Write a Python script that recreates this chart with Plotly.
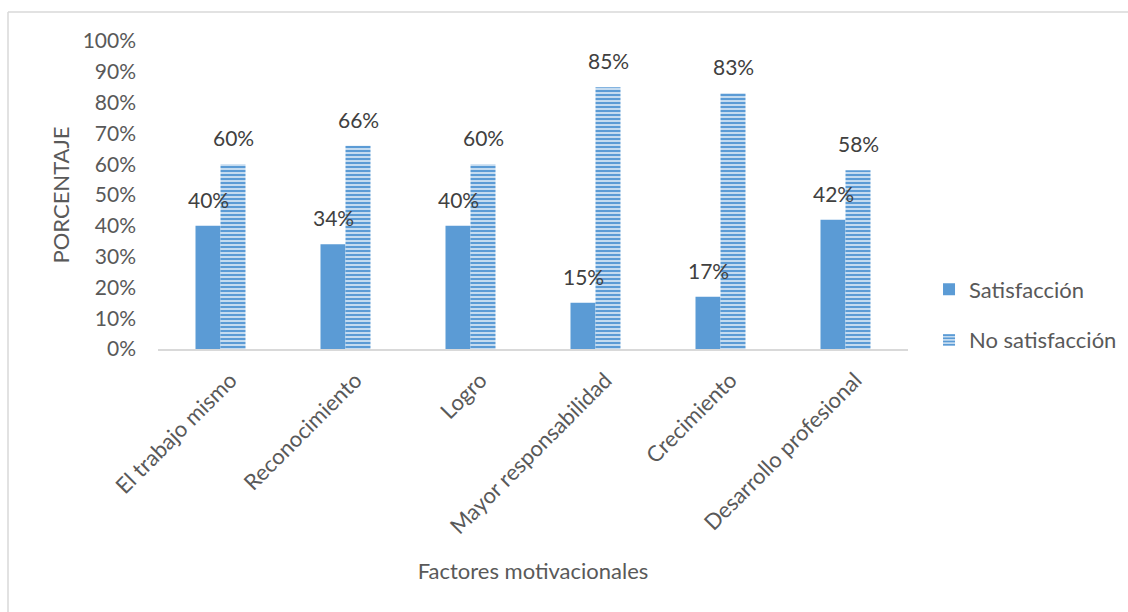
import plotly.graph_objects as go

categorias = ["El trabajo mismo", "Reconocimiento", "Logro",
              "Mayor responsabilidad", "Crecimiento", "Desarrollo profesional"]
satisfaccion = [40, 34, 40, 15, 17, 42]
no_satisfaccion = [60, 66, 60, 85, 83, 58]
y_ticks = [0, 10, 20, 30, 40, 50, 60, 70, 80, 90, 100]

AZUL = "#5b9bd5"
TEXTO = "#595959"
ETIQUETA = "#404040"
FUENTE = "Lato"

fig = go.Figure()
fig.add_trace(go.Bar(
    name="Satisfacción", x=categorias, y=satisfaccion,
    marker=dict(color=AZUL, line=dict(width=0)),
    legendgroup="a",
))
fig.add_trace(go.Bar(
    name="No satisfacción", x=categorias, y=no_satisfaccion,
    marker=dict(color=AZUL, line=dict(width=0),
                pattern=dict(shape="-", fgcolor=AZUL, bgcolor="white",
                             fgopacity=1, size=4, solidity=0.68)),
    legendgroup="b",
))

# value labels above each bar, offset to the bar's slot in the group
for serie, dx in ((satisfaccion, -12.5), (no_satisfaccion, 12.5)):
    for cat, v in zip(categorias, serie):
        fig.add_annotation(x=cat, y=v, text=f"{v}%", showarrow=False,
                           xanchor="center", yanchor="bottom",
                           xshift=dx, yshift=12,
                           font=dict(size=21, color=ETIQUETA, family=FUENTE))

# outer chart border: only the top and left edges fall inside the page
fig.add_shape(type="line", xref="paper", yref="paper",
              x0=-0.2, x1=1.6, y0=1.094, y1=1.094,
              line=dict(color="#d9d9d9", width=1.5))
fig.add_shape(type="line", xref="paper", yref="paper",
              x0=-0.2, x1=-0.2, y0=-1.2, y1=1.094,
              line=dict(color="#d9d9d9", width=1.5))

fig.update_layout(
    width=1128, height=612,
    margin=dict(l=158, r=220, t=41, b=263),
    paper_bgcolor="white", plot_bgcolor="white",
    barmode="group", bargap=0.6, bargroupgap=0,
    font=dict(family=FUENTE, color=TEXTO, size=20),
    showlegend=True,
    legend=dict(xref="container", yref="container",
                x=0.8236, y=0.4853, xanchor="left", yanchor="middle",
                font=dict(size=22, color=TEXTO, family=FUENTE),
                tracegroupgap=19, itemwidth=30),
    xaxis=dict(
        automargin=False,
        tickangle=-45, showgrid=False, showline=True, linecolor="#d9d9d9",
        linewidth=1.5, ticks="", tickfont=dict(size=22, color=TEXTO),
        ticklabelstandoff=8, ticklabelshift=10,
        title=dict(text="Factores motivacionales", standoff=25,
                   font=dict(size=22, color=TEXTO)),
    ),
    yaxis=dict(
        automargin=False,
        range=[0, 100], tickvals=y_ticks,
        ticktext=[f"{v}%" for v in y_ticks],
        showgrid=False, showline=False, zeroline=False, ticks="",
        tickfont=dict(size=21, color=TEXTO), ticklabelstandoff=21,
        title=dict(text="PORCENTAJE", standoff=6,
                   font=dict(size=22, color=TEXTO)),
    ),
)

fig.write_html("out.html")
